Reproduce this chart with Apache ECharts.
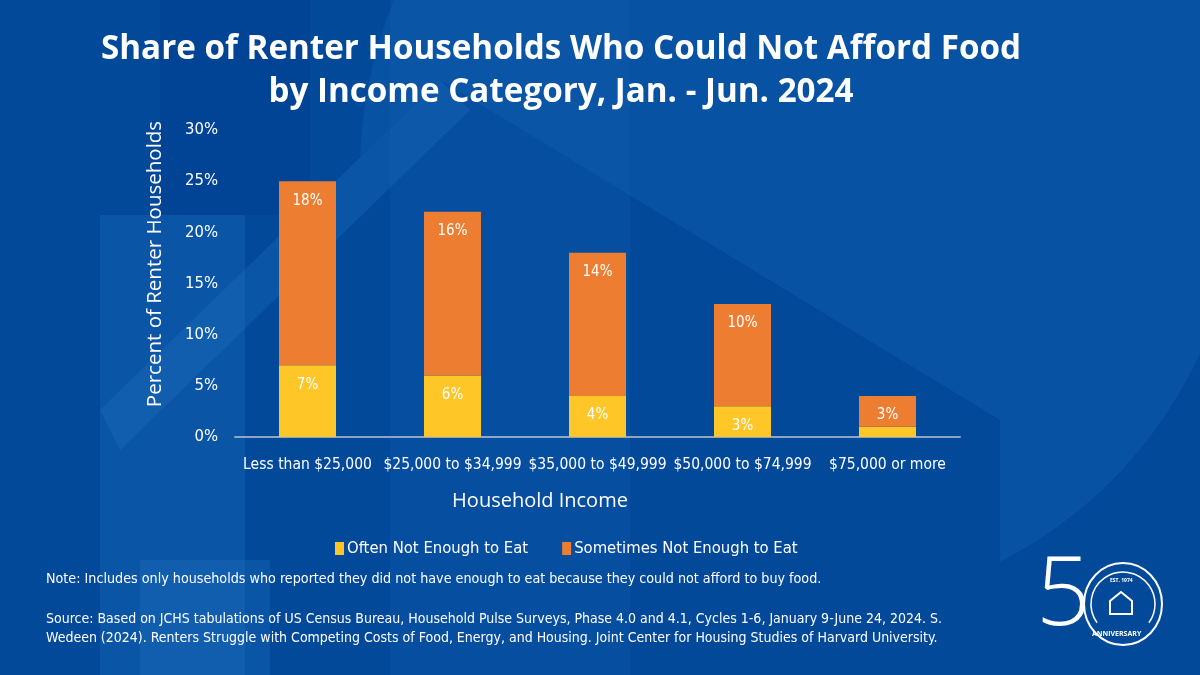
<!DOCTYPE html>
<html><head><meta charset="utf-8">
<script src="https://cdn.jsdelivr.net/npm/echarts@6/dist/echarts.min.js"></script>
<style>html,body{margin:0;padding:0;background:#03499a;}#c{width:1200px;height:675px;}</style>
</head><body><div id="c"></div>
<script>
const categories = ['Less than $25,000','$25,000 to $34,999','$35,000 to $49,999','$50,000 to $74,999','$75,000 or more'];
const oftenValues = [7, 6, 4, 3, 1];
const sometimesValues = [18, 16, 14, 10, 3];
const yTicks = [0, 5, 10, 15, 20, 25, 30];

const narrow = '"Liberation Sans Narrow", "DejaVu Sans Condensed", sans-serif';
const chart = echarts.init(document.getElementById('c'));
const light = 'rgba(30,110,190,0.35)';
chart.setOption({
  backgroundColor: '#03499a',
  animation: false,
  graphic: [
    {type:'circle', z:-10, shape:{cx:800, cy:170, r:440}, style:{fill:'rgba(20,100,180,0.35)'}},
    {type:'polygon', z:-9, shape:{points:[[100,410],[440,80],[1000,420],[1000,675],[100,675]]}, style:{fill:'#03499a'}},
    {type:'polygon', z:-8, shape:{points:[[100,410],[440,80],[470,110],[120,450]]}, style:{fill:light}},
    {type:'rect', z:-8, shape:{x:100, y:215, width:145, height:460}, style:{fill:light}},
    {type:'rect', z:-7, shape:{x:160, y:0, width:150, height:215}, style:{fill:'rgba(0,60,140,0.35)'}},
    {type:'rect', z:-8, shape:{x:140, y:560, width:130, height:115}, style:{fill:light}},
    {type:'rect', z:-8, shape:{x:390, y:0, width:240, height:675}, style:{fill:'rgba(30,110,190,0.15)'}},
    {type:'text', left:1036, top:550, style:{text:'5', fill:'#fff', font:'200 96px "Open Sans"'}},
    {type:'ellipse', shape:{cx:1123, cy:604, rx:39, ry:41}, style:{fill:'none', stroke:'#fff', lineWidth:2}},
    {type:'arc', shape:{cx:1123, cy:604, r:32, startAngle:Math.PI*0.8, endAngle:Math.PI*0.2}, style:{fill:'none', stroke:'#fff', lineWidth:1.5}},
    {type:'text', left:1110, top:578, style:{text:'EST. 1974', fill:'#fff', font:'bold 5px "Open Sans"'}},
    {type:'text', left:1092, top:630, style:{text:'ANNIVERSARY', fill:'#fff', font:'bold 7px "Open Sans"'}},
    {type:'polygon', shape:{points:[[1110,614],[1110,601],[1121,592],[1132,601],[1132,614]]}, style:{fill:'none', stroke:'#fff', lineWidth:2}},
    {type:'text', x:540, y:501, style:{text:'Household Income', fill:'#fff', font:'20px "Open Sans"', align:'center', verticalAlign:'middle'}},
    {type:'text', x:155, y:264, rotation:Math.PI/2, style:{text:'Percent of Renter Households', fill:'#fff', font:'20.5px "Open Sans"', align:'center', verticalAlign:'middle'}},
    {type:'text', left:46, top:572, style:{text:'Note: Includes only households who reported they did not have enough to eat because they could not afford to buy food.', fill:'#fff', font:'14.2px ' + narrow}},
    {type:'text', left:46, top:610, style:{text:'Source: Based on JCHS tabulations of US Census Bureau, Household Pulse Surveys, Phase 4.0 and 4.1, Cycles 1-6, January 9-June 24, 2024. S.\nWedeen (2024). Renters Struggle with Competing Costs of Food, Energy, and Housing. Joint Center for Housing Studies of Harvard University.', fill:'#fff', lineHeight:19, font:'14px ' + narrow}}
  ],
  title: {
    text: 'Share of Renter Households Who Could Not Afford Food\nby Income Category, Jan. - Jun. 2024',
    left: 556, textAlign: 'center', top: 23,
    textStyle: {color:'#fff', fontFamily:'"Open Sans"', fontWeight:'bold', fontSize:33.2, lineHeight:43}
  },
  legend: {
    top: 535, left: 330,
    itemWidth: 9, itemHeight: 13, icon: 'rect', itemGap: 34,
    textStyle: {color:'#fff', fontSize:16.5, fontFamily:narrow, padding:[0,0,0,-2]},
    data: ['Often Not Enough to Eat','Sometimes Not Enough to Eat']
  },
  grid: {left:235, right:240, top:130, bottom:238},
  xAxis: {
    type:'category', data: categories,
    axisLine:{lineStyle:{color:'#8ea6c6', width:2}},
    axisTick:{show:false},
    axisLabel:{color:'#fff', fontSize:15.5, margin:20, interval:0, fontFamily:narrow}
  },
  yAxis: {
    type:'value', min:0, max:30, interval:5,
    axisLine:{show:false}, axisTick:{show:false}, splitLine:{show:false},
    axisLabel:{color:'#fff', fontSize:16.5, margin:17, formatter: v => yTicks.includes(v) ? v + '%' : '', fontFamily:narrow}
  },
  series: [
    {name:'Often Not Enough to Eat', type:'bar', stack:'a', data: oftenValues, barWidth:57,
     itemStyle:{color:'#FFC627'},
     label:{show:true, position:'insideTop', distance:12, color:'#fff', fontSize:15, fontFamily:narrow,
       formatter: p => p.value >= 2 ? p.value + '%' : ''}},
    {name:'Sometimes Not Enough to Eat', type:'bar', stack:'a', data: sometimesValues, barWidth:57,
     itemStyle:{color:'#ED7D31'},
     label:{show:true, position:'insideTop', distance:12, color:'#fff', fontSize:15, fontFamily:narrow,
       formatter: p => p.value + '%'}}
  ]
});
</script></body></html>
